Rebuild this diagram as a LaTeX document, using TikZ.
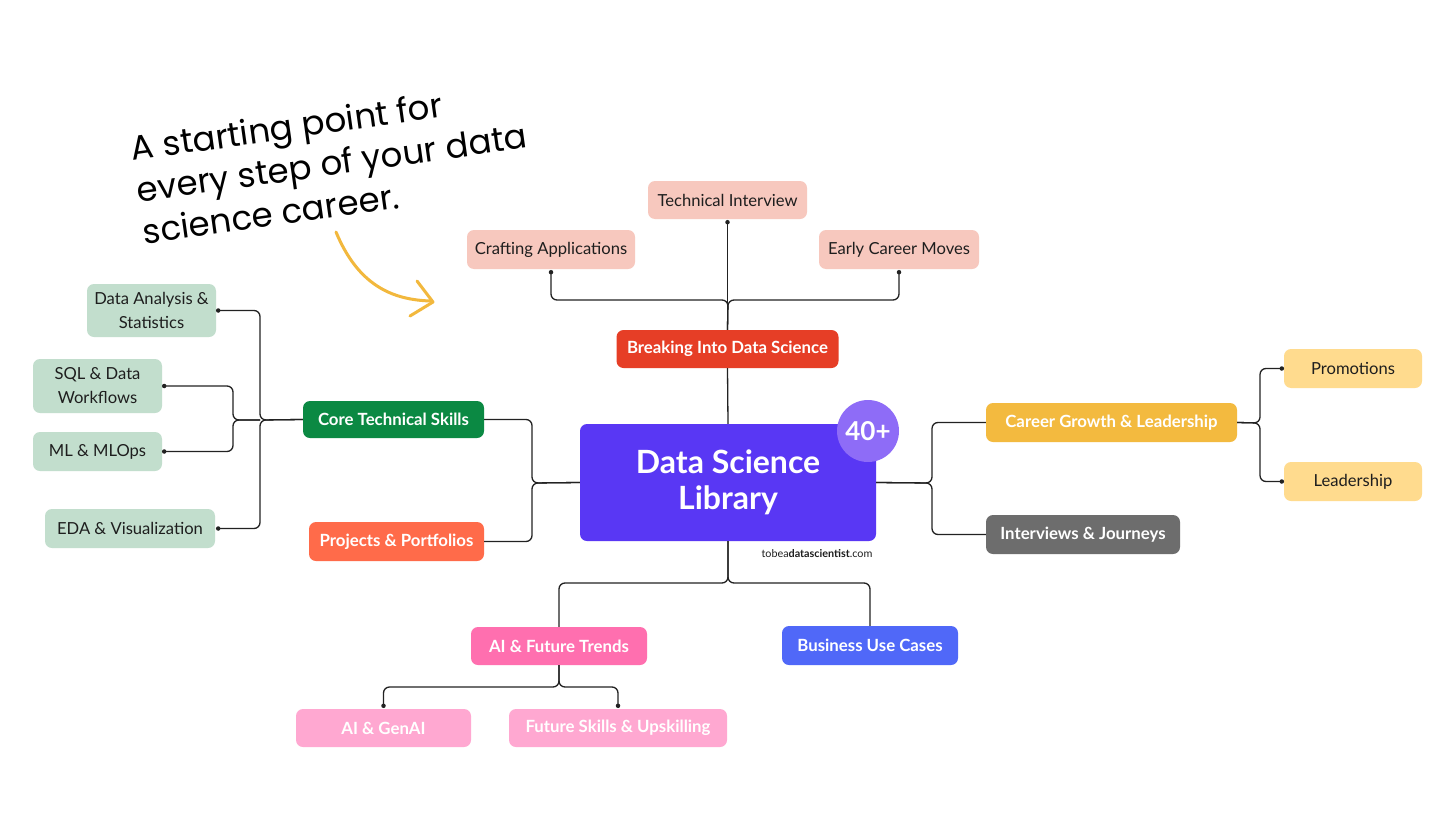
\documentclass[tikz,border=0pt]{standalone}
\usepackage{fontspec}
\setmainfont{Lato}
\newfontfamily\handfont{Poppins}
\usetikzlibrary{calc}
\definecolor{mainpurple}{HTML}{5937F4}
\definecolor{badgepurple}{HTML}{8E6CF7}
\definecolor{redbox}{HTML}{E63E26}
\definecolor{salmon}{HTML}{F7C8BE}
\definecolor{greenbox}{HTML}{0B8943}
\definecolor{orangebox}{HTML}{FF6B4A}
\definecolor{lightgreen}{HTML}{C2DECD}
\definecolor{goldbox}{HTML}{F3BA3F}
\definecolor{lightyellow}{HTML}{FFDB8E}
\definecolor{graybox}{HTML}{6D6D6D}
\definecolor{pinkbox}{HTML}{FF6FAF}
\definecolor{lightpink}{HTML}{FFA8D1}
\definecolor{bluebox}{HTML}{5068F8}
\definecolor{arrowgold}{HTML}{F2B83D}
\definecolor{linecol}{HTML}{222222}
\definecolor{txtdark}{HTML}{1E1E1E}
\tikzset{
  box/.style={rectangle, rounded corners=7pt, inner sep=0pt, align=center},
  mainbox/.style={box, draw=none, text=white, font=\bfseries\fontsize{16.8}{20}\selectfont},
  subbox/.style={box, draw=none, text=txtdark, font=\fontsize{16.6}{24}\selectfont},
  subwhite/.style={box, draw=none, text=white, font=\bfseries\fontsize{16.8}{20}\selectfont},
  conn/.style={draw=linecol, line width=1.3pt, rounded corners=6pt},
  dotc/.style={fill=linecol, circle, inner sep=0pt, minimum size=4.5pt}
}
\begin{document}
\begin{tikzpicture}[x=1pt,y=-1pt]
\useasboundingbox (0,0) rectangle (1456,819);
\fill[white] (0,0) rectangle (1456,819);

% junction coordinates
\coordinate (jT) at (728,300);
\coordinate (jL) at (532,483);
\coordinate (jC) at (260,420);
\coordinate (jS) at (233,420);
\coordinate (jR) at (932,483);
\coordinate (jP) at (1260,423);
\coordinate (jB) at (728,583);
\coordinate (jA) at (559,687);

% nodes
\node[box, fill=mainpurple, text=white, minimum width=296pt, minimum height=117pt,
      font=\bfseries\fontsize{32}{36}\selectfont] (main) at (728,482.5) {Data Science\\Library};
\node[circle, fill=badgepurple, minimum size=62pt, inner sep=0pt, text=white,
      font=\bfseries\fontsize{26}{28}\selectfont] (badge) at (868,431) {40+};
\node[font=\fontsize{10.8}{12}\selectfont, text=txtdark, inner sep=0pt] (url) at (817,554) {tobea\textbf{datascientist}.com};

\node[mainbox, fill=redbox, minimum width=222pt, minimum height=38pt] (break) at (727.5,349) {Breaking Into Data Science};
\node[subbox, fill=salmon, minimum width=159pt, minimum height=38pt] (tech) at (727.5,200) {Technical Interview};
\node[subbox, fill=salmon, minimum width=168pt, minimum height=39pt] (craft) at (551,249.5) {Crafting Applications};
\node[subbox, fill=salmon, minimum width=160pt, minimum height=39pt] (early) at (899,249.5) {Early Career Moves};

\node[mainbox, fill=greenbox, minimum width=181pt, minimum height=37pt] (core) at (393.5,419.5) {Core Technical Skills};
\node[mainbox, fill=orangebox, minimum width=175pt, minimum height=39pt] (proj) at (396.5,541.5) {Projects \& Portfolios};
\node[subbox, fill=lightgreen, minimum width=129pt, minimum height=53pt] (da) at (151.5,310.5) {Data Analysis \&\\Statistics};
\node[subbox, fill=lightgreen, minimum width=129pt, minimum height=54pt] (sql) at (97.5,386) {SQL \& Data\\Workflows};
\node[subbox, fill=lightgreen, minimum width=129pt, minimum height=39pt] (ml) at (97.5,451.5) {ML \& MLOps};
\node[subbox, fill=lightgreen, minimum width=170pt, minimum height=39pt] (eda) at (130,528.5) {EDA \& Visualization};

\node[mainbox, fill=goldbox, minimum width=251pt, minimum height=39pt] (career) at (1111.5,422.5) {Career Growth \& Leadership};
\node[mainbox, fill=graybox, minimum width=194pt, minimum height=39pt] (inter) at (1083,534.5) {Interviews \& Journeys};
\node[subbox, fill=lightyellow, minimum width=138pt, minimum height=39pt] (prom) at (1353,368.5) {Promotions};
\node[subbox, fill=lightyellow, minimum width=138pt, minimum height=39pt] (lead) at (1353,481.5) {Leadership};

\node[mainbox, fill=pinkbox, minimum width=176pt, minimum height=38pt] (aift) at (559,646) {AI \& Future Trends};
\node[mainbox, fill=bluebox, minimum width=176pt, minimum height=39pt] (biz) at (870,645.5) {Business Use Cases};
\node[subwhite, fill=lightpink, minimum width=175pt, minimum height=38pt] (genai) at (383.5,728) {AI \& GenAI};
\node[subwhite, fill=lightpink, minimum width=218pt, minimum height=38pt] (future) at (618,728) {Future Skills \& Upskilling};

% connectors
\draw[conn] (main.north) -- (break.south);
\draw[conn] (break.north) -- ($(tech.south)+(0,3)$);
\draw[conn] ($(craft.south)+(0,3)$) |- (jT) -- (break.north);
\draw[conn] ($(early.south)+(0,3)$) |- (jT) -- (break.north);

\draw[conn] (core.east) -| (jL) -- (main.west);
\draw[conn] (proj.east) -| (jL) -- (main.west);
\draw[conn] ($(da.east)+(2,0)$) -| (jC) -- (core.west);
\draw[conn] ($(eda.east)+(3,0)$) -| (jC) -- (core.west);
\draw[conn] ($(sql.east)+(2,0)$) -| (jS) -- (jC);
\draw[conn] ($(ml.east)+(2,0)$) -| (jS) -- (jC);

\draw[conn] (career.west) -| (jR) -- (main.east);
\draw[conn] (inter.west) -| (jR) -- (main.east);
\draw[conn] ($(prom.west)+(-2,0)$) -| (jP) -- (career.east);
\draw[conn] ($(lead.west)+(-2,0)$) -| (jP) -- (career.east);

\draw[conn] (aift.north) |- (jB) -- (main.south);
\draw[conn] (biz.north) |- (jB) -- (main.south);
\draw[conn] ($(genai.north)+(0,-3)$) |- (jA) -- (aift.south);
\draw[conn] ($(future.north)+(0,-3)$) |- (jA) -- (aift.south);

% dots
\node[dotc] at ($(tech.south)+(0,3)$) {};
\node[dotc] at ($(craft.south)+(0,3)$) {};
\node[dotc] at ($(early.south)+(0,3)$) {};
\node[dotc] at ($(da.east)+(2,0)$) {};
\node[dotc] at ($(sql.east)+(2,0)$) {};
\node[dotc] at ($(ml.east)+(2,0)$) {};
\node[dotc] at ($(eda.east)+(3,0)$) {};
\node[dotc] at ($(prom.west)+(-2,0)$) {};
\node[dotc] at ($(lead.west)+(-2,0)$) {};
\node[dotc] at ($(genai.north)+(0,-3)$) {};
\node[dotc] at ($(future.north)+(0,-3)$) {};

% handwritten note
\node[anchor=north west, rotate=8, align=left, inner sep=0pt, text=black,
      font=\handfont\fontsize{34}{42}\selectfont] (note) at (129,135)
      {A starting point for\\every step of your data\\science career.};

% curved arrow
\draw[arrowgold, line width=3pt, line cap=round] (336,232) .. controls (358,285) and (392,300) .. (431,301);
\draw[arrowgold, line width=3pt, line cap=round, line join=round] (417,281) -- (433,302) -- (410,316);
\end{tikzpicture}
\end{document}
